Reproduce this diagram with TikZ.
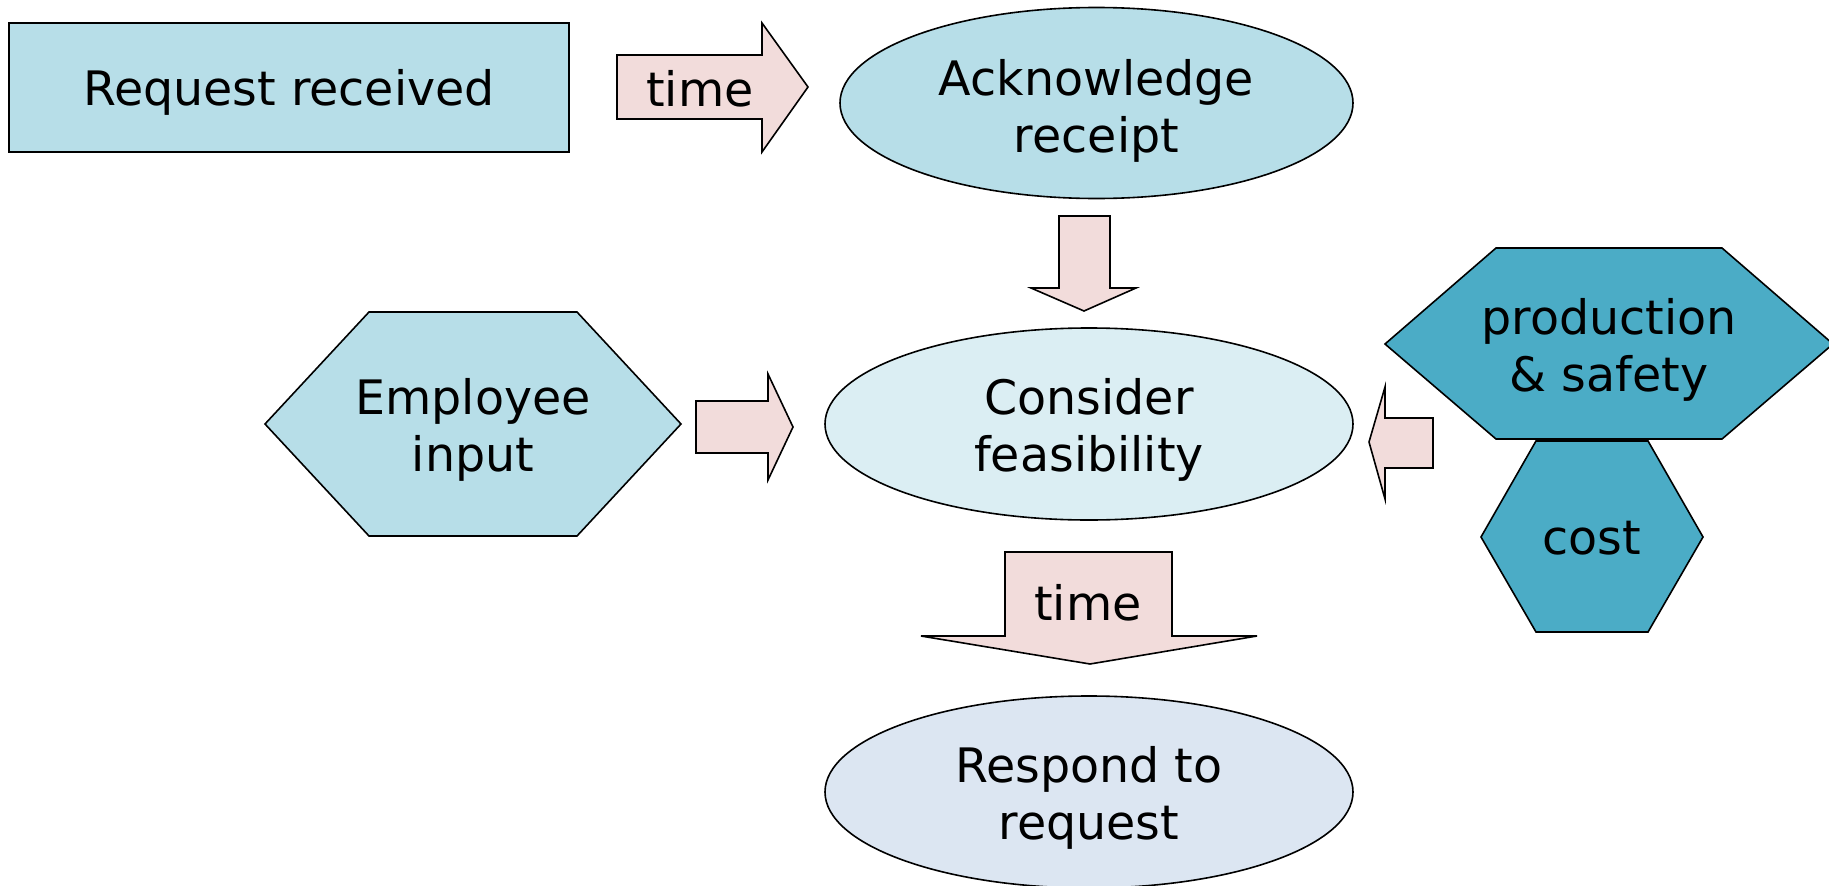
\documentclass[tikz,border=0pt]{standalone}
\usepackage{fontspec}
\setmainfont{DejaVu Sans}
\usetikzlibrary{shapes.geometric}
\definecolor{paleblue}{HTML}{B7DEE8}
\definecolor{iceblue}{HTML}{DBEEF3}
\definecolor{greyblue}{HTML}{DCE6F2}
\definecolor{tealblue}{HTML}{4BACC6}
\definecolor{blush}{HTML}{F2DCDB}
\tikzset{
  outline/.style={draw=black, line width=1.6pt, line join=miter},
  blockarrow/.style={outline, fill=blush},
  lbl/.style={font=\fontsize{47.5}{57.5}\selectfont, align=center, inner sep=0pt, text=black},
  oval/.style={outline, ellipse, inner sep=0pt, lbl}
}
\begin{document}
\begin{tikzpicture}[x=1pt, y=-1pt]
\useasboundingbox (0,0) rectangle (1829,886);

% rectangle and ovals
\node[outline, fill=paleblue, line width=2pt, minimum width=560pt, minimum height=129pt, inner sep=0pt]
  (req) at (289,87.5) {};
\node[lbl] (reqtxt) at (289,92) {Request received};
\node[oval, fill=paleblue, minimum width=513pt, minimum height=191pt] (ack) at (1096.5,103) {};
\node[lbl] (acktxt) at (1096.5,111) {Acknowledge\\receipt};
\node[oval, fill=iceblue, minimum width=528pt, minimum height=192pt] (cons) at (1089,424) {};
\node[lbl] (constxt) at (1089,430) {Consider\\feasibility};
\node[oval, fill=greyblue, minimum width=528pt, minimum height=192pt] (resp) at (1089,792) {};
\node[lbl] (resptxt) at (1089,798) {Respond to\\request};

% hexagons
\draw[outline, fill=paleblue] (265,424) -- (369,312) -- (577,312) -- (681,424) -- (577,536) -- (369,536) -- cycle;
\node[lbl] (emp) at (473,430) {Employee\\input};
\draw[outline, fill=tealblue] (1385,344) -- (1496,248) -- (1722,248) -- (1833,344) -- (1722,439) -- (1496,439) -- cycle;
\node[lbl] (prod) at (1609,350) {production\\\& safety};
\draw[outline, fill=tealblue] (1481,537) -- (1536,441) -- (1648,441) -- (1703,537) -- (1648,632) -- (1536,632) -- cycle;
\node[lbl] (cost) at (1592,538) {cost};

% block arrows
\draw[blockarrow] (617,55) -- (762,55) -- (762,23) -- (808,87) -- (762,152) -- (762,119) -- (617,119) -- cycle;
\node[lbl] (time1) at (700,89) {time};
\draw[blockarrow] (1059,216) -- (1110,216) -- (1110,288) -- (1136,288) -- (1084,311) -- (1031,288) -- (1059,288) -- cycle;
\draw[blockarrow] (696,401) -- (768,401) -- (768,374) -- (793,427) -- (768,480) -- (768,453) -- (696,453) -- cycle;
\draw[blockarrow] (1433,418) -- (1385,418) -- (1385,387) -- (1369,442) -- (1385,499) -- (1385,468) -- (1433,468) -- cycle;
\draw[blockarrow] (1005,552) -- (1172,552) -- (1172,636) -- (1257,636) -- (1090,664) -- (921,636) -- (1005,636) -- cycle;
\node[lbl] (time2) at (1088,603) {time};
\end{tikzpicture}
\end{document}
